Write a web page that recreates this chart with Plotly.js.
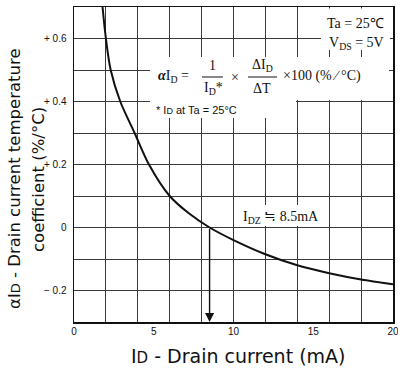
<!DOCTYPE html>
<html>
<head>
<meta charset="utf-8">
<script src="https://cdn.plot.ly/plotly-3.0.1.min.js"></script>
<style>html,body{margin:0;padding:0;background:#fff;}#chart{width:398px;height:372px;}</style>
</head>
<body>
<div id="chart"></div>
<script>
// ---- data ----
const drainCurrent = [1.75, 2.0, 2.3, 2.9, 3.8, 4.7, 6.0, 7.2, 8.5, 10, 12, 14, 16, 18, 20];
const tempCoeff    = [0.72, 0.60, 0.50, 0.40, 0.30, 0.20, 0.10, 0.045, 0.0, -0.04, -0.085, -0.12, -0.145, -0.165, -0.18];
const xGridVals  = [0, 2, 4, 6, 8, 10, 12, 14, 16, 18, 20];
const xLabelVals = [0, 5, 10, 15, 20];
const xLabelText = ['0', '5', '10', '15', '20'];
const yGridVals  = [-0.3, -0.2, -0.1, 0, 0.1, 0.2, 0.3, 0.4, 0.5, 0.6, 0.7];
const yLabelText = ['', '\u2212 0.2', '', '0', '', '+ 0.2', '', '+ 0.4', '', '+ 0.6', ''];
const zeroCrossing = 8.5;

// ---- layout helpers (pixel -> paper) ----
const L = 74, R = 393, T = 7, B = 322;
const W = 398, H = 372;
const px = v => (v - L) / (R - L);
const py = v => (B - v) / (B - T);

const sans = 'Liberation Sans, Arial, sans-serif';
const serif = 'Liberation Serif, Times New Roman, serif';
const titleFont = {family: 'DejaVu Sans, sans-serif', size: 19, color: '#111'};
const yTitleFont = {family: 'DejaVu Sans, sans-serif', size: 16.5, color: '#111'};

function txt(x, y, text, font, xanchor, extra) {
  return Object.assign({xref: 'paper', yref: 'paper', x: px(x), y: py(y), text: text,
    showarrow: false, xanchor: xanchor || 'center', yanchor: 'middle', font: font}, extra || {});
}
const fSerif = {family: serif, size: 14, color: '#111'};

const annotations = [
  txt(14, 179, '\u03b1I<span style="font-size:13px">D</span> - Drain current temperature', yTitleFont, 'center', {textangle: -90}),
  txt(38, 180, 'coefficient (%/\u00b0C)', yTitleFont, 'center', {textangle: -90}),
  txt(238, 356, 'I<span style="font-size:15px">D</span> - Drain current (mA)', titleFont, 'center'),
  txt(386, 23, 'Ta = 25\u2103', fSerif, 'right'),
  txt(386, 43, 'V<sub>DS</sub> = 5V', fSerif, 'right'),
  txt(156, 76, '<b><i>\u03b1</i></b>I<sub>D</sub> =', fSerif, 'left'),
  txt(212, 65, '1', fSerif),
  txt(213, 89, 'I<sub>D</sub>*', fSerif),
  txt(235, 77, '\u00d7', fSerif),
  txt(262, 65, '\u0394I<sub>D</sub>', fSerif),
  txt(262, 89, '\u0394T', fSerif),
  txt(281, 76, '\u00d7100 (% \u2215 \u00b0C)', fSerif, 'left'),
  txt(154, 110, '* I<span style="font-size:9px">D</span> at Ta = 25\u00b0C', {family: sans, size: 11, color: '#111'}, 'left'),
  txt(241, 217, 'I<sub>DZ</sub> \u2252 8.5mA', fSerif, 'left'),
  {x: zeroCrossing, y: -0.3, ax: zeroCrossing, ay: 0, xref: 'x', yref: 'y', axref: 'x', ayref: 'y',
   text: '', showarrow: true, arrowhead: 2, arrowsize: 1.3, arrowwidth: 1.4, arrowcolor: '#111'}
];

function rect(x0, y0, x1, y1) {
  return {type: 'rect', xref: 'paper', yref: 'paper', x0: px(x0), x1: px(x1), y0: py(y1), y1: py(y0),
          fillcolor: '#fff', line: {width: 0}, layer: 'above'};
}
function hline(x0, x1, y) {
  return {type: 'line', xref: 'paper', yref: 'paper', x0: px(x0), x1: px(x1), y0: py(y), y1: py(y),
          line: {color: '#111', width: 1}, layer: 'above'};
}
const shapes = [
  rect(321, 8.5, 390, 50),
  rect(150, 57, 389, 100),
  rect(150, 99, 296, 118),
  rect(238, 205, 325, 226),
  hline(202, 223, 77),
  hline(248, 277, 77)
];

const traces = [
  {x: drainCurrent, y: tempCoeff, type: 'scatter', mode: 'lines',
   line: {color: '#111', width: 2, shape: 'spline', smoothing: 0.8},
   hoverinfo: 'skip', showlegend: false},
  {x: xLabelVals, y: xLabelVals.map(() => null), xaxis: 'x2', yaxis: 'y', type: 'scatter',
   mode: 'markers', hoverinfo: 'skip', showlegend: false}
];

const layout = {
  width: W, height: H,
  margin: {l: L, r: W - R, t: T, b: H - B, pad: 0},
  paper_bgcolor: '#fff', plot_bgcolor: '#fff',
  showlegend: false,
  xaxis: {range: [0, 20], tickmode: 'array', tickvals: xGridVals, showticklabels: false, ticks: '',
          showgrid: true, gridcolor: '#3a3a3a', gridwidth: 1, zeroline: false,
          showline: true, mirror: true, linecolor: '#111', linewidth: 1.5},
  xaxis2: {range: [0, 20], overlaying: 'x', anchor: 'y', side: 'bottom', tickmode: 'array',
           tickvals: xLabelVals, ticktext: xLabelText, showgrid: false, zeroline: false, ticks: '',
           showline: false, ticklabelstandoff: 2, ticklabeloverflow: 'allow',
           tickfont: {family: sans, size: 10, color: '#111'}},
  yaxis: {range: [-0.3, 0.7], tickmode: 'array', tickvals: yGridVals, ticktext: yLabelText, ticks: '',
          showgrid: true, gridcolor: '#3a3a3a', gridwidth: 1, zeroline: false,
          showline: true, mirror: true, linecolor: '#111', linewidth: 1.5, ticklabelstandoff: 4,
          tickfont: {family: sans, size: 10, color: '#111'}},
  annotations: annotations,
  shapes: shapes
};

Plotly.newPlot('chart', traces, layout, {displayModeBar: false, staticPlot: true});
</script>
</body>
</html>
